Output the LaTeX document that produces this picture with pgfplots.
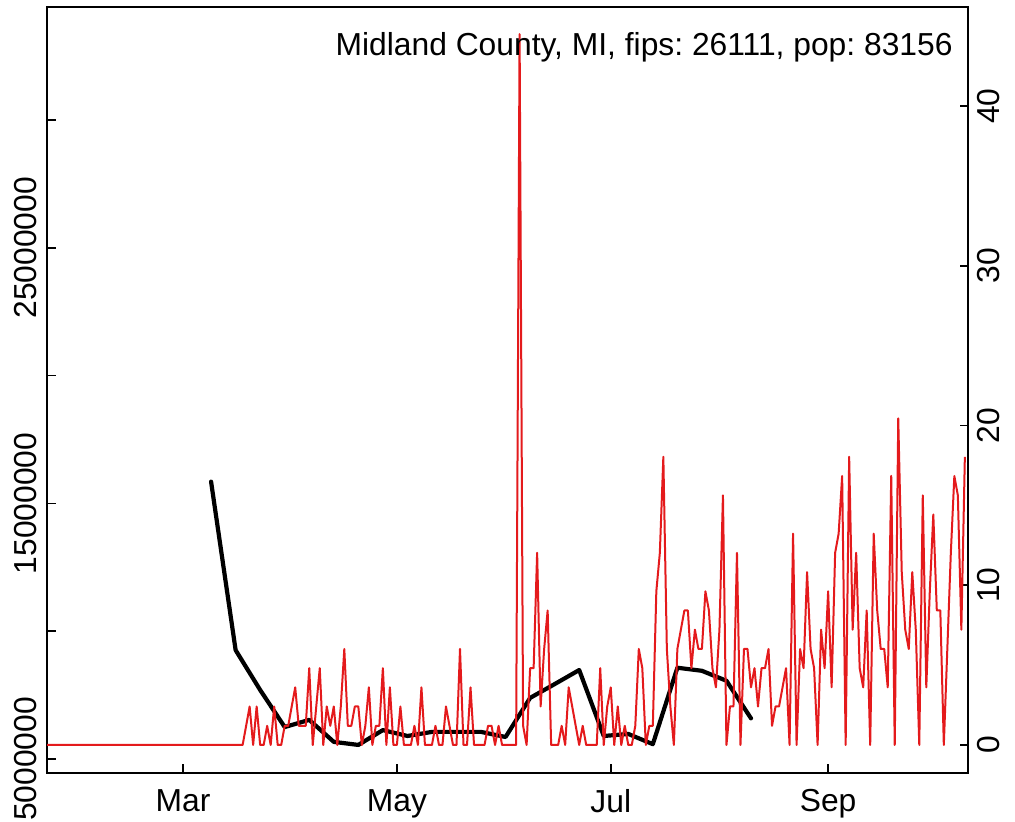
\documentclass[border=0pt]{standalone}
\usepackage{fontspec}
\setmainfont{Liberation Sans}
\usepackage{pgfplots}
\usepackage{pgfplotstable}
\pgfplotsset{compat=1.18}
\definecolor{cred}{RGB}{228,26,28}

\pgfplotstableread{
day val
21 0
77 0
78 1.20
79 2.41
80 0
81 2.41
82 0
83 0
84 1.20
85 0
86 2.41
87 0
88 0
89 1.20
90 1.20
91 2.41
92 3.61
93 1.20
94 1.20
95 1.20
96 4.81
97 0
98 2.41
99 4.81
100 0
101 2.41
102 1.20
103 2.41
104 0
105 2.41
106 6.01
107 1.20
108 1.20
109 2.41
110 2.41
111 0
112 1.20
113 3.61
114 0
115 1.20
116 1.20
117 4.81
118 0
119 3.61
120 0
121 0
122 2.41
123 0
124 0
125 0
126 1.20
127 0
128 3.61
129 0
130 0
131 0
132 1.20
133 0
134 0
135 2.41
136 1.20
137 0
138 0
139 6.01
140 0
141 0
142 3.61
143 0
144 0
145 0
146 0
147 1.20
148 1.20
149 0
150 1.20
151 0
152 0
153 0
154 0
155 0
156 44.50
157 1.20
158 0
159 4.81
160 4.81
161 12.03
162 2.41
163 6.01
164 8.42
165 0
166 0
167 0
168 1.20
169 0
170 3.61
171 2.41
172 1.20
173 0
174 1.20
175 0
176 0
177 0
178 0
179 4.81
180 0
181 2.41
182 3.61
183 0
184 2.41
185 0
186 1.20
187 0
188 0
189 1.20
190 6.01
191 4.81
192 0
193 1.20
194 1.20
195 9.62
196 12.03
197 18.04
198 6.01
199 2.41
200 0
201 6.01
202 7.22
203 8.42
204 8.42
205 4.81
206 7.22
207 6.01
208 6.01
209 9.62
210 8.42
211 4.81
212 3.61
213 7.22
214 15.63
215 0
216 2.41
217 2.41
218 12.03
219 0
220 6.01
221 6.01
222 3.61
223 4.81
224 2.41
225 4.81
226 4.81
227 6.01
228 1.20
229 2.41
230 2.41
231 3.61
232 4.81
233 0
234 13.23
235 0
236 6.01
237 4.81
238 10.82
239 6.01
240 4.81
241 0
242 7.22
243 4.81
244 9.62
245 3.61
246 12.03
247 13.23
248 16.84
249 0
250 18.04
251 7.22
252 12.03
253 4.81
254 3.61
255 8.42
256 0
257 13.23
258 8.42
259 6.01
260 6.01
261 3.61
262 16.84
263 0
264 20.44
265 10.82
266 7.22
267 6.01
268 10.82
269 7.22
270 0
271 15.63
272 3.61
273 9.62
274 14.43
275 8.42
276 8.42
277 0
278 6.01
279 12.03
280 16.84
281 15.63
282 7.22
283 18.04
}\redtable

\pgfplotstableread{
day val
68 15850000
75 9260000
82 7700000
89 6250000
96 6530000
103 5670000
110 5550000
117 6130000
124 5900000
131 6060000
138 6060000
145 6060000
152 5860000
159 7390000
166 7930000
173 8480000
180 5900000
187 5980000
194 5580000
201 8570000
208 8450000
215 8060000
222 6590000
}\blacktable

\begin{document}
\frenchspacing
\fontsize{15.9}{19}\selectfont
\begin{tikzpicture}
\begin{axis}[
  name=main,
  scale only axis,
  width=460.5pt, height=383pt,
  xmin=21.2, xmax=283.9,
  ymin=4452000, ymax=34420000,
  axis line style={line width=0.8pt},
  xtick={60,121,182,244},
  xticklabels={Mar,May,Jul,Sep},
  xtick pos=bottom, ytick pos=left,
  tick align=inside,
  major tick length=4.25pt,
  tick style={line width=0.8pt, black},
  ytick={5000000,10000000,15000000,20000000,25000000,30000000},
  yticklabels={5000000,,15000000,,25000000,},
  scaled y ticks=false,
  tick label style={font=\fontsize{15.9}{19}\selectfont},
  yticklabel style={rotate=90, anchor=south, inner sep=0pt},
  yticklabel shift=5pt,
  xticklabel style={anchor=north, inner sep=0pt},
  xticklabel shift=8pt,
  clip=true,
]
\addplot[black, line width=2.1pt, line join=round, line cap=round] table[x=day, y=val] {\blacktable};
\end{axis}
\begin{axis}[
  at={(main.south west)}, anchor=south west,
  scale only axis,
  width=460.5pt, height=383pt,
  xmin=21.2, xmax=283.9,
  ymin=-1.753, ymax=46.2,
  axis x line=none,
  axis y line*=right,
  axis line style={-, line width=0.8pt},
  ytick={0,10,20,30,40},
  tick align=inside,
  major tick length=4.25pt,
  tick style={line width=0.8pt, black},
  /pgf/number format/assume math mode=true,
  tick label style={font=\fontsize{15.9}{19}\selectfont},
  yticklabel style={rotate=90, anchor=north, inner sep=0pt},
  yticklabel shift=4.5pt,
]
\addplot[cred, line width=1pt, line join=round] table[x=day, y=val] {\redtable};
\node[anchor=base east, inner sep=0pt, font=\fontsize{15.9}{19}\selectfont] at (rel axis cs:0.9837,0.936) {Midland County, MI, fips: 26111, pop: 83156};
\end{axis}
\pgfresetboundingbox
\path ([shift={(-23.5pt,-24.5pt)}]main.south west) rectangle ([shift={(23.5pt,3.5pt)}]main.north east);
\end{tikzpicture}
\end{document}
